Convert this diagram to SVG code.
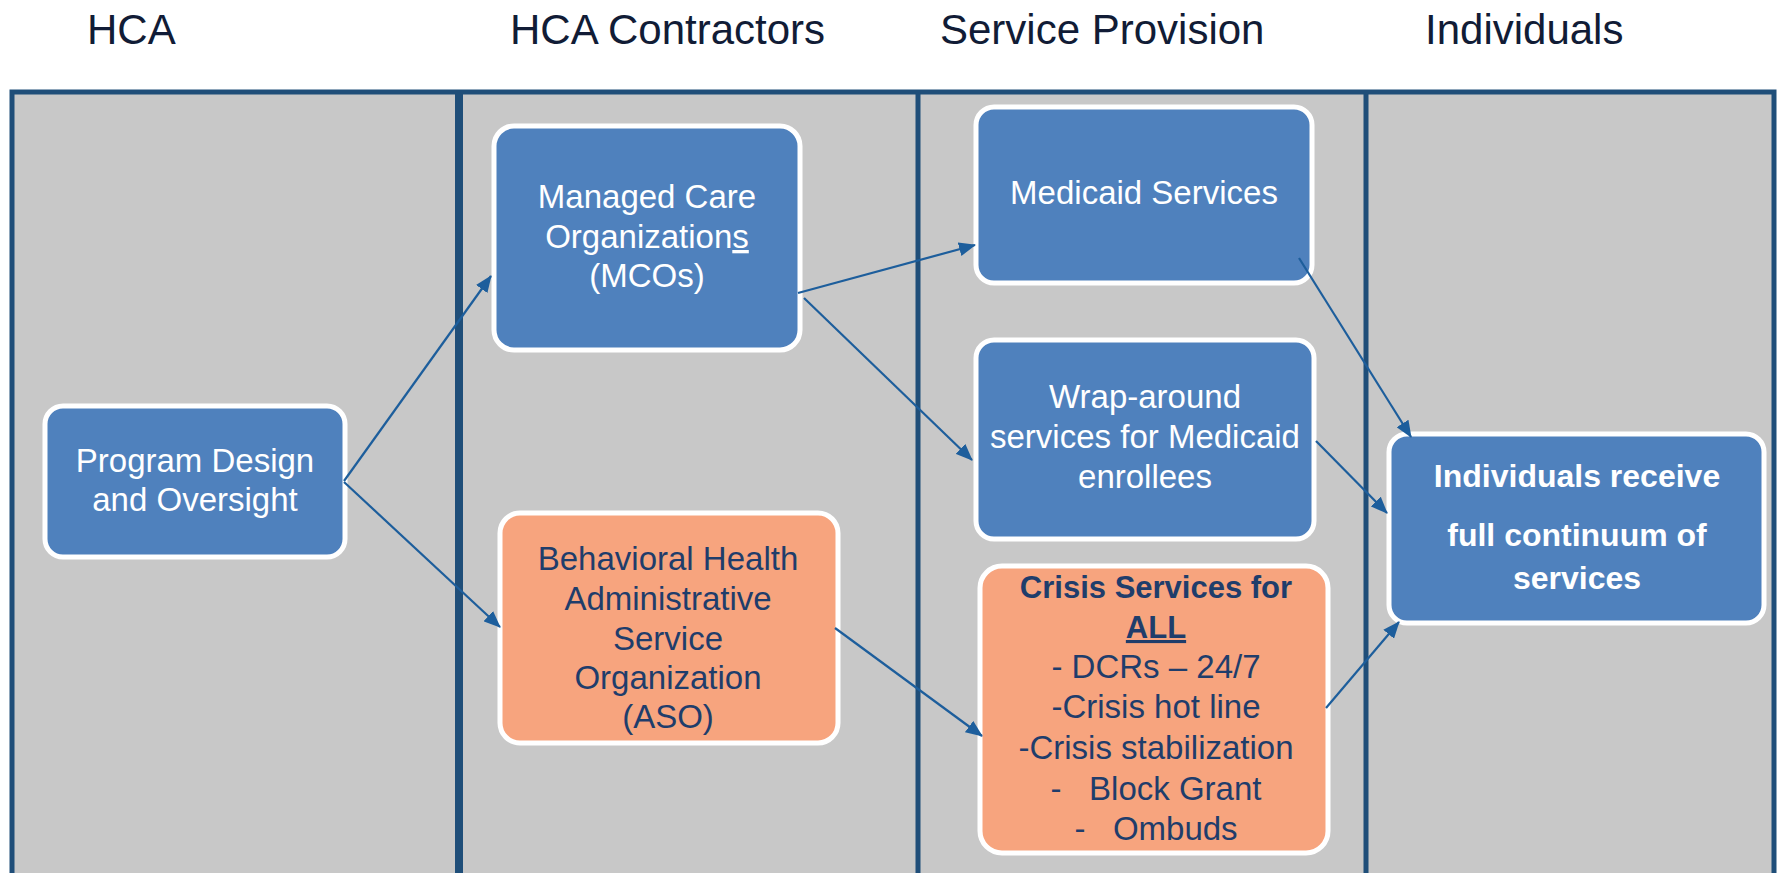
<svg xmlns="http://www.w3.org/2000/svg" width="1777" height="873" viewBox="0 0 1777 873">
<style>
.title{font-family:"Liberation Sans",Arial,sans-serif;font-size:42px;fill:#111c36}
.box{stroke:#ffffff;stroke-width:5}
.blue{fill:#4f81bd}
.orange{fill:#f7a47e}
.t{font-family:"Liberation Sans",Arial,sans-serif;font-size:33px;text-anchor:middle}
.w{fill:#ffffff}
.n{fill:#1f3d6b}
.b{font-weight:bold}
.conn{stroke:#1d5e9c;stroke-width:2.2;fill:none;marker-end:url(#ah)}
</style>
<defs>
<marker id="ah" markerUnits="userSpaceOnUse" markerWidth="18" markerHeight="14" refX="16" refY="7" orient="auto">
<path d="M0,0 L17,7 L0,14 Z" fill="#1d5e9c"/>
</marker>
</defs>
<rect width="1777" height="873" fill="#ffffff"/>
<g id="titles">
<text class="title" x="87" y="44">HCA</text>
<text class="title" x="510" y="44">HCA Contractors</text>
<text class="title" x="940" y="44">Service Provision</text>
<text class="title" x="1425" y="44">Individuals</text>
</g>
<g id="lanes">
<rect x="12" y="92" width="1762" height="800" fill="#c8c8c8" stroke="#1f4e79" stroke-width="5"/>
<line x1="459" y1="92" x2="459" y2="873" stroke="#1f4e79" stroke-width="8"/>
<line x1="918" y1="92" x2="918" y2="873" stroke="#1f4e79" stroke-width="5"/>
<line x1="1366" y1="92" x2="1366" y2="873" stroke="#1f4e79" stroke-width="5"/>
</g>
<g id="program-design">
<rect class="box blue" x="45" y="406" width="300" height="151" rx="18"/>
<text class="t w" x="195" y="472">Program Design</text>
<text class="t w" x="195" y="511">and Oversight</text>
</g>
<g id="mco">
<rect class="box blue" x="494" y="126" width="306" height="224" rx="20"/>
<text class="t w" x="647" y="208">Managed Care</text>
<text class="t w" x="647" y="248">Organization<tspan text-decoration="underline">s</tspan></text>
<text class="t w" x="647" y="287">(MCOs)</text>
</g>
<g id="aso">
<rect class="box orange" x="500" y="513" width="338" height="230" rx="20"/>
<text class="t n" x="668" y="570">Behavioral Health</text>
<text class="t n" x="668" y="610">Administrative</text>
<text class="t n" x="668" y="650">Service</text>
<text class="t n" x="668" y="689">Organization</text>
<text class="t n" x="668" y="728">(ASO)</text>
</g>
<g id="medicaid">
<rect class="box blue" x="976" y="107" width="336" height="176" rx="18"/>
<text class="t w" x="1144" y="204">Medicaid Services</text>
</g>
<g id="wraparound">
<rect class="box blue" x="976" y="340" width="338" height="199" rx="18"/>
<text class="t w" x="1145" y="408">Wrap-around</text>
<text class="t w" x="1145" y="448">services for Medicaid</text>
<text class="t w" x="1145" y="488">enrollees</text>
</g>
<g id="crisis">
<rect class="box orange" x="980" y="566" width="348" height="287" rx="22"/>
<text class="t n b" x="1156" y="598" style="font-size:31px">Crisis Services for</text>
<text class="t n b" x="1156" y="638" style="font-size:31px" text-decoration="underline">ALL</text>
<text class="t n" x="1156" y="678">- DCRs – 24/7</text>
<text class="t n" x="1156" y="718">-Crisis hot line</text>
<text class="t n" x="1156" y="759">-Crisis stabilization</text>
<text class="t n" x="1156" y="800" xml:space="preserve">-   Block Grant</text>
<text class="t n" x="1156" y="840" xml:space="preserve">-   Ombuds</text>
</g>
<g id="individuals">
<rect class="box blue" x="1389" y="434" width="375" height="189" rx="18"/>
<text class="t w b" x="1577" y="487" style="font-size:32px">Individuals receive</text>
<text class="t w b" x="1577" y="546" style="font-size:32px">full continuum of</text>
<text class="t w b" x="1577" y="589" style="font-size:32px">services</text>
</g>
<g id="connectors">
<line class="conn" x1="344" y1="481" x2="491" y2="276"/>
<line class="conn" x1="344" y1="482" x2="500" y2="627"/>
<line class="conn" x1="798" y1="293" x2="975" y2="245"/>
<line class="conn" x1="804" y1="298" x2="972" y2="460"/>
<line class="conn" x1="835" y1="628" x2="982" y2="736"/>
<line class="conn" x1="1299" y1="258" x2="1411" y2="437"/>
<line class="conn" x1="1316" y1="441" x2="1387" y2="513"/>
<line class="conn" x1="1326" y1="708" x2="1399" y2="622"/>
</g>
</svg>
